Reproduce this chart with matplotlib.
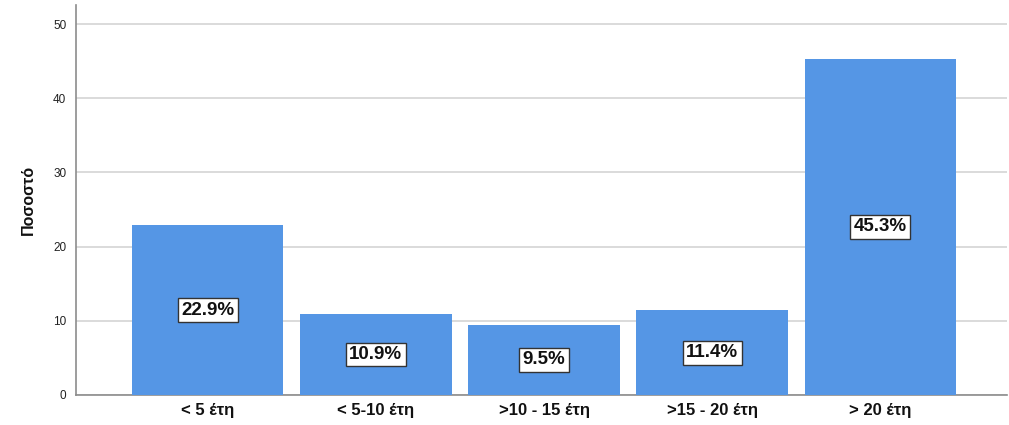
import matplotlib
matplotlib.use("Agg")
import matplotlib.pyplot as plt

categories = ["< 5 έτη", "< 5-10 έτη", ">10 - 15 έτη", ">15 - 20 έτη", "> 20 έτη"]
percentages = [22.9, 10.9, 9.5, 11.4, 45.3]
y_ticks = [0, 10, 20, 30, 40, 50]

plt.rcParams["font.family"] = ["Liberation Sans", "DejaVu Sans"]

fig = plt.figure(figsize=(10.09, 4.25), dpi=100)
ax = fig.add_axes([0.0753, 0.0706, 0.9227, 0.9174])

x = list(range(len(categories)))
ax.bar(x, percentages, width=0.9, color="#5596E5", zorder=3)

for xi, val in zip(x, percentages):
    ax.text(xi, val / 2, f"{val:.1f}%", ha="center", va="center",
            fontsize=13.5, fontweight="bold", color="#111111", zorder=4,
            bbox=dict(boxstyle="square,pad=0.18", facecolor="white",
                      edgecolor="#333333", linewidth=1.0))

ax.set_xlim(-0.783, 4.753)
ax.set_ylim(0, 52.56)
ax.set_yticks(y_ticks)
ax.set_yticklabels([str(t) for t in y_ticks], fontsize=8.5, color="#222222")
ax.set_xticks(x)
ax.set_xticklabels(categories, fontsize=12, fontweight="bold", color="#111111")
ax.tick_params(axis="both", length=0)
ax.tick_params(axis="y", pad=7)
ax.tick_params(axis="x", pad=6)

ax.yaxis.grid(True, color="#D4D4D4", linewidth=1.2, zorder=0)
ax.set_axisbelow(True)

for side in ("top", "right"):
    ax.spines[side].set_visible(False)
for side in ("left", "bottom"):
    ax.spines[side].set_color("#8C8C8C")
    ax.spines[side].set_linewidth(1.2)

ax.set_ylabel("Ποσοστό", fontsize=11.5, fontweight="bold", color="#111111", labelpad=12)

fig.savefig("out.png", dpi=100)
